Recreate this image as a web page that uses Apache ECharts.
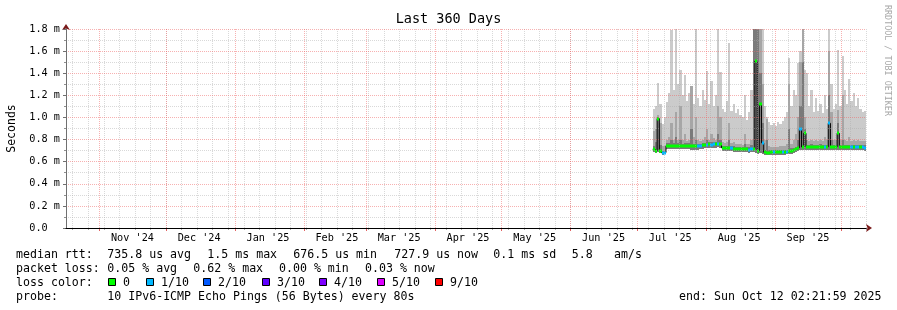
<!DOCTYPE html>
<html><head><meta charset="utf-8">
<script src="https://cdn.jsdelivr.net/npm/echarts@6/dist/echarts.min.js"></script>
<style>html,body{margin:0;padding:0;background:#fff}#c{width:897px;height:310px}</style>
</head><body><div id="c"></div>
<script>
const FONT = '"DejaVu Sans Mono", monospace';
// time frame: 360 days ending Sun Oct 12 02:21:59 2025
const startTime = Date.UTC(2024, 9, 17, 2, 21, 59);
const spanDays = 360;
function dayOf(y, m, d) { return (Date.UTC(y, m - 1, d) - startTime) / 86400000; }

// axis tick definitions
const monthStarts = [[2024,11],[2024,12],[2025,1],[2025,2],[2025,3],[2025,4],[2025,5],[2025,6],[2025,7],[2025,8],[2025,9],[2025,10]];
const monthLabels = ["Nov '24","Dec '24","Jan '25","Feb '25","Mar '25","Apr '25","May '25","Jun '25","Jul '25","Aug '25","Sep '25"];
const monthLabelDates = [[2024,11,16],[2024,12,16],[2025,1,16],[2025,2,16],[2025,3,16],[2025,4,16],[2025,5,16],[2025,6,16],[2025,7,16],[2025,8,16],[2025,9,16]];
const firstSunday = [2024, 10, 20];
const yTickValues = [0, 0.2, 0.4, 0.6, 0.8, 1.0, 1.2, 1.4, 1.6, 1.8];
const yTickLabels = ['0.0  ', '0.2 m', '0.4 m', '0.6 m', '0.8 m', '1.0 m', '1.2 m', '1.4 m', '1.6 m', '1.8 m'];

// data: one column per day (days since start of the window), values in ms
const days = [264,265,266,267,268,269,270,271,272,273,274,275,276,277,278,279,280,281,282,283,284,285,286,287,288,289,290,291,292,293,294,295,296,297,298,299,300,301,302,303,304,305,306,307,308,309,310,311,312,313,314,315,316,317,318,319,320,321,322,323,324,325,326,327,328,329,330,331,332,333,334,335,336,337,338,339,340,341,342,343,344,345,346,347,348,349,350,351,352,353,354,355,356,357,358,359];
const median = [0.712,0.700,0.990,0.700,0.680,0.682,0.745,0.745,0.745,0.744,0.744,0.746,0.745,0.744,0.742,0.745,0.745,0.740,0.738,0.738,0.740,0.742,0.748,0.752,0.755,0.756,0.755,0.757,0.758,0.760,0.758,0.725,0.722,0.720,0.720,0.722,0.718,0.715,0.715,0.714,0.713,0.712,0.712,0.710,0.712,0.712,1.510,0.700,1.120,0.770,0.685,0.680,0.682,0.683,0.685,0.684,0.686,0.688,0.688,0.690,0.690,0.695,0.700,0.708,0.715,0.725,0.900,0.733,0.857,0.735,0.735,0.736,0.735,0.734,0.735,0.736,0.735,0.735,0.734,0.947,0.735,0.735,0.735,0.857,0.735,0.736,0.735,0.734,0.735,0.733,0.735,0.732,0.730,0.733,0.731,0.728];
const loss = [0,0,0,0,1,1,0,0,0,0,0,0,0,0,0,0,0,0,0,0,1,1,0,0,1,0,1,1,0,1,0,0,0,0,0,1,0,0,0,0,0,0,0,1,1,0,0,0,0,1,0,0,0,0,1,0,0,0,1,0,1,0,0,0,0,0,1,0,0,0,0,0,0,0,0,0,0,1,0,1,0,0,0,0,0,0,0,0,0,1,0,1,1,0,1,1];
const smokeLow = [0.690,0.680,0.690,0.680,0.662,0.665,0.715,0.716,0.715,0.714,0.715,0.716,0.715,0.714,0.712,0.714,0.715,0.710,0.708,0.708,0.710,0.712,0.718,0.722,0.724,0.726,0.725,0.727,0.728,0.729,0.727,0.696,0.694,0.692,0.692,0.693,0.690,0.688,0.687,0.686,0.685,0.684,0.684,0.682,0.684,0.684,0.680,0.672,0.676,0.668,0.660,0.656,0.657,0.658,0.660,0.659,0.661,0.662,0.663,0.664,0.665,0.668,0.673,0.680,0.688,0.697,0.702,0.706,0.707,0.708,0.707,0.708,0.707,0.706,0.707,0.708,0.707,0.707,0.706,0.707,0.707,0.707,0.706,0.707,0.707,0.708,0.707,0.706,0.707,0.705,0.707,0.704,0.702,0.705,0.703,0.700];
const smokeInner = [0.740,0.780,1.000,0.750,0.700,0.700,0.765,0.765,0.800,0.765,0.820,0.766,0.800,0.764,0.770,0.765,0.765,0.900,0.758,0.800,0.760,0.762,0.768,0.772,0.800,0.776,0.780,0.777,0.778,0.850,0.800,0.745,0.742,0.740,0.800,0.742,0.738,0.735,0.735,0.734,0.733,0.760,0.732,0.730,0.750,1.830,1.830,1.830,1.400,0.950,0.705,0.800,0.702,0.703,0.705,0.704,0.706,0.708,0.708,0.710,0.710,0.900,0.720,0.728,0.735,0.800,1.100,1.500,0.900,0.755,0.755,0.756,0.755,0.754,0.755,0.756,0.755,0.755,0.754,1.200,0.800,0.755,0.755,0.950,0.755,0.800,0.755,0.754,0.755,0.753,0.755,0.752,0.750,0.753,0.751,0.748];
const smokeMid = [0.880,0.900,1.020,0.950,0.740,0.740,0.800,0.820,0.950,0.800,1.050,0.800,1.100,0.800,0.850,0.790,0.800,1.280,0.820,1.000,0.800,0.790,0.800,0.820,0.900,0.800,0.850,0.810,0.800,1.100,1.000,0.780,0.770,0.780,0.950,0.770,0.780,0.760,0.760,0.760,0.750,0.850,0.760,0.760,0.800,1.830,1.830,1.830,1.830,1.300,0.800,0.990,0.740,0.730,0.730,0.730,0.730,0.740,0.740,0.740,0.760,1.300,0.760,0.800,0.850,1.000,1.500,1.800,1.000,0.800,0.790,0.800,0.790,0.800,0.790,0.800,0.790,0.820,0.800,1.600,1.050,0.800,0.800,1.070,0.800,1.200,0.800,0.790,0.820,0.790,0.800,0.790,0.800,0.790,0.790,0.790];
const smokeHigh = [1.080,1.100,1.310,1.120,0.940,1.000,1.140,1.220,1.790,1.250,1.820,1.300,1.430,1.200,1.380,1.150,1.220,1.280,1.120,1.830,1.180,1.100,1.250,1.160,1.420,1.120,1.330,1.100,1.200,1.820,1.410,1.080,1.050,1.150,1.670,1.060,1.120,1.040,1.080,1.020,1.000,1.200,0.980,1.050,1.250,1.830,1.830,1.830,1.830,1.830,1.100,1.000,0.960,0.930,0.950,0.920,0.960,0.940,0.970,1.000,1.050,1.540,1.100,1.250,1.200,1.490,1.600,1.830,1.430,1.400,1.100,1.250,1.050,1.180,1.060,1.120,1.040,1.200,1.080,1.830,1.300,1.080,1.120,1.610,1.100,1.560,1.250,1.120,1.350,1.150,1.220,1.100,1.180,1.080,1.050,1.060];

const lossColors = ['#00ff00','#00b8ff','#0059ff','#5e00ff','#7e00ff','#dd00ff','#ff0000'];
const lossNames = ['0','1/10','2/10','3/10','4/10','5/10','9/10'];
const smokeColors = ['#cbcbcb', '#a6a6a6', '#7a7a7a'];
const gridColors = ['rgba(170,170,170,0.45)', 'rgba(240,100,100,0.5)'];

// derived tick positions
const monthDays = monthStarts.map(m => dayOf(m[0], m[1], 1));
const labelDays = monthLabelDates.map(m => dayOf(m[0], m[1], m[2]));
const weekDays = [];
for (let t = dayOf(firstSunday[0], firstSunday[1], firstSunday[2]); t <= spanDays + 1e-6; t += 7) weekDays.push(t);
const vGridData = weekDays.map(v => [v, 0]).concat(monthDays.map(v => [v, 1]));

const chart = echarts.init(document.getElementById('c'), null, {renderer: 'canvas'});
const minorGrid = {color: gridColors[0], width: 1, type: [1, 1]};
const majorGrid = {color: gridColors[1], width: 1, type: [1, 1]};
const hidden = {axisLine: {show: false}, axisTick: {show: false}, axisLabel: {show: false}, splitLine: {show: false}};

function clipR(params, r) {
  const cs = params.coordSys;
  return echarts.graphic.clipRectByRect(r, {x: cs.x, y: cs.y, width: cs.width, height: cs.height});
}

const legendFont = '11.6px ' + FONT;
const gtext = (text, x, y, align) => ({type: 'text', x: x, y: y, z: 10, style: {text: text, font: legendFont, fill: '#000', align: align || 'left', verticalAlign: 'middle'}});

const rows = [
  {y: 255, items: [['median rtt:', 16], ['735.8 us avg', 107.3], ['1.5 ms max', 207.3], ['676.5 us min', 293.3], ['727.9 us now', 394.3], ['0.1 ms sd', 493.3], ['5.8', 571.7], ['am/s', 614]]},
  {y: 269, items: [['packet loss:', 16], ['0.05 % avg', 107.3], ['0.62 % max', 193.3], ['0.00 % min', 279], ['0.03 % now', 365]]},
  {y: 283, items: [['loss color:', 16]]},
  {y: 297, items: [['probe:', 16], ['10 IPv6-ICMP Echo Pings (56 Bytes) every 80s', 107.3]]}
];
const swatchX = [108, 146, 203, 262, 319, 377, 435];
const graphics = [];
rows.forEach(r => r.items.forEach(it => graphics.push(gtext(it[0], it[1], r.y))));
lossNames.forEach((n, i) => {
  graphics.push({type: 'rect', z: 10, shape: {x: swatchX[i] + 0.5, y: 278.5, width: 7, height: 7}, style: {fill: lossColors[i], stroke: '#000', lineWidth: 1}});
  graphics.push(gtext(n, swatchX[i] + 15, 283));
});
graphics.push(gtext('end: Sun Oct 12 02:21:59 2025', 881.5, 297, 'right'));
graphics.push({type: 'text', x: 448.5, y: 19.5, z: 10, style: {text: 'Last 360 Days', font: '13.5px ' + FONT, fill: '#000', align: 'center', verticalAlign: 'middle'}});
graphics.push({type: 'text', x: 887, y: 5, rotation: -Math.PI / 2, z: 10, style: {text: 'RRDTOOL / TOBI OETIKER', font: '8.4px ' + FONT, fill: '#a8a8a8', align: 'left', verticalAlign: 'middle'}});

chart.setOption({
  animation: false,
  backgroundColor: '#ffffff',
  grid: {left: 66, top: 29, width: 800, height: 199, containLabel: false, outerBoundsMode: 'none'},
  xAxis: [
    Object.assign({}, hidden, {type: 'value', min: 0, max: spanDays, position: 'bottom', z: 6,
      axisLine: {show: true, lineStyle: {color: '#7a1a1a', width: 1}, symbol: ['none', 'arrow'], symbolSize: [6, 6], symbolOffset: [0, 6]}}),
    Object.assign({}, hidden, {type: 'value', min: 0, max: spanDays, position: 'bottom', z: 7,
      axisLine: {show: true, lineStyle: {color: '#000', width: 1}},
      axisLabel: {show: true, customValues: labelDays, margin: 5, color: '#000', fontFamily: FONT, fontSize: 10.2,
        formatter: v => { const i = labelDays.findIndex(x => Math.abs(x - v) < 1e-6); return i >= 0 ? monthLabels[i] : ''; }}})
  ],
  yAxis: [
    Object.assign({}, hidden, {type: 'value', min: 0, max: 1.8, position: 'left', z: 5,
      axisLine: {show: true, lineStyle: {color: '#7a1a1a', width: 1}, symbol: ['none', 'arrow'], symbolSize: [6, 6], symbolOffset: [0, 5]}}),
    {type: 'value', min: 0, max: 1.8, interval: 0.2, position: 'left', z: 6,
      axisLine: {show: true, lineStyle: {color: '#707070', width: 1}},
      axisTick: {show: true, length: 3, lineStyle: {color: '#707070'}},
      minorTick: {show: true, splitNumber: 2, length: 2, lineStyle: {color: '#909090'}},
      axisLabel: {margin: 6, color: '#000', fontFamily: FONT, fontSize: 10.2,
        formatter: v => { const i = yTickValues.findIndex(x => Math.abs(x - v) < 1e-6); return i >= 0 ? yTickLabels[i] : ''; }},
      splitLine: {show: true, lineStyle: majorGrid},
      minorSplitLine: {show: true, lineStyle: minorGrid},
      name: 'Seconds', nameLocation: 'middle', nameGap: 48,
      nameTextStyle: {fontFamily: FONT, fontSize: 11.5, color: '#000'}}
  ],
  series: [
    {type: 'custom', name: 'smoke', z: 1, xAxisIndex: 1, yAxisIndex: 1,
      data: days.map((d, i) => [d, smokeLow[i], smokeInner[i], smokeMid[i], smokeHigh[i]]),
      renderItem: (params, api) => {
        const d = api.value(0);
        const x0 = Math.round(api.coord([d, 0])[0]);
        const x1 = Math.round(api.coord([d + 1, 0])[0]);
        const lo = api.value(1);
        const tops = [api.value(4), api.value(3), api.value(2)];
        const children = [];
        tops.forEach((top, k) => {
          const yLo = Math.round(api.coord([d, lo])[1]);
          const yHi = Math.round(api.coord([d, top])[1]);
          const r = clipR(params, {x: x0, y: yHi, width: x1 - x0, height: yLo - yHi});
          if (r) children.push({type: 'rect', shape: r, style: {fill: smokeColors[k]}});
        });
        return {type: 'group', children: children};
      }},
    {type: 'line', name: 'median', z: 2, xAxisIndex: 1, yAxisIndex: 1, step: 'end', showSymbol: false,
      data: days.map((d, i) => [d, median[i]]),
      lineStyle: {color: '#000', width: 1}},
    {type: 'custom', name: 'loss', z: 3, xAxisIndex: 1, yAxisIndex: 1,
      data: days.map((d, i) => [d, median[i], loss[i]]),
      renderItem: (params, api) => {
        const d = api.value(0);
        const x0 = Math.round(api.coord([d, 0])[0]);
        const x1 = Math.round(api.coord([d + 1, 0])[0]);
        const y = api.coord([d, api.value(1)])[1];
        return {type: 'rect', shape: {x: x0, y: Math.round(y) - 1.5, width: x1 - x0, height: 3}, style: {fill: lossColors[api.value(2)]}};
      }},
    {type: 'custom', name: 'vgrid', z: 4, xAxisIndex: 1, yAxisIndex: 1, clip: false, silent: true,
      data: vGridData,
      renderItem: (params, api) => {
        const cs = params.coordSys;
        const kind = api.value(1);
        const x = Math.round(api.coord([api.value(0), 0])[0]) + 0.5;
        const yb = cs.y + cs.height;
        return {type: 'group', children: [
          {type: 'line', shape: {x1: x, y1: cs.y, x2: x, y2: yb}, style: {stroke: gridColors[kind], lineWidth: 1, lineDash: [1, 1]}},
          {type: 'line', shape: {x1: x, y1: yb, x2: x, y2: yb + (kind ? 3 : 2)}, style: {stroke: kind ? 'rgba(220,60,60,0.8)' : '#aaa', lineWidth: 1}}
        ]};
      }}
  ],
  graphic: graphics
});
</script></body></html>
